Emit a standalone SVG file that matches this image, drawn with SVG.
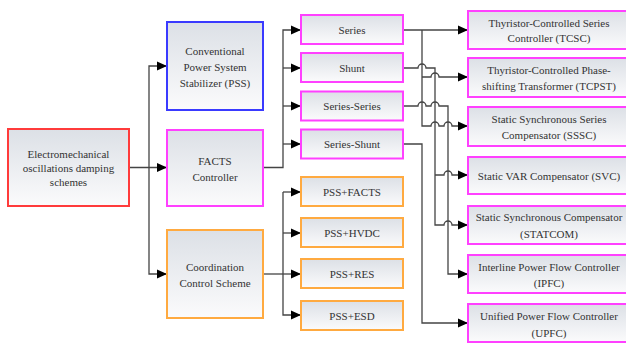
<svg xmlns="http://www.w3.org/2000/svg" width="626" height="343" viewBox="0 0 626 343">
<style>
.box{fill:url(#g);stroke-width:2}
.red{stroke:#ff3b3b}
.blue{stroke:#3a3aff}
.mag{stroke:#ff40ff}
.org{stroke:#ffaa40}
text{font-size:11px;fill:#333;text-anchor:middle;dominant-baseline:central}
.c path{fill:none;stroke:#444;stroke-width:1.3}
.c path.a{marker-end:url(#ar)}
</style>
<defs>
<linearGradient id="g" x1="0" y1="0" x2="0" y2="1">
<stop offset="0" stop-color="#dce0e6"/>
<stop offset="1" stop-color="#fbfbfc"/>
</linearGradient>
<marker id="ar" markerUnits="userSpaceOnUse" markerWidth="10" markerHeight="10" refX="10" refY="5" orient="auto">
<path d="M0,0.5 L10,5 L0,9.5 z" fill="#000"/>
</marker>
</defs>
<rect width="626" height="343" fill="#fff"/>
<g class="c" id="connectors">
<path d="M129,167.5 H167" class="a"/>
<path d="M149,167.5 V66 H167" class="a"/>
<path d="M149,167.5 V274 H167" class="a"/>
<path d="M263,167.5 H283 V30 H301" class="a"/>
<path d="M283,68 H301" class="a"/>
<path d="M283,106 H301" class="a"/>
<path d="M283,144 H301" class="a"/>
<path d="M263,274 H283" />
<path d="M283,192 V315 H301" class="a"/>
<path d="M283,192 H301" class="a"/>
<path d="M283,233 H301" class="a"/>
<path d="M283,274 H301" class="a"/>
<path d="M403,30 H468" class="a"/>
<path d="M422,30 V126 H431 a4,4 0 0 1 8,0 H444 a4,4 0 0 1 8,0 H468" class="a"/>
<path d="M422,77 H431 a4,4 0 0 1 8,0 H468" class="a"/>
<path d="M403,68 H418 a4,4 0 0 1 8,0 H435 V225 H444 a4,4 0 0 1 8,0 H468" class="a"/>
<path d="M435,175 H444 a4,4 0 0 1 8,0 H468" class="a"/>
<path d="M403,106 H418 a4,4 0 0 1 8,0 H431 a4,4 0 0 1 8,0 H448 V274 H468" class="a"/>
<path d="M403,144 H422 V323 H468" class="a"/>
</g>
<g font-family="Liberation Serif, DejaVu Serif, serif">
<g id="root"><rect class="box red" x="8" y="129" width="121" height="77"/>
<text x="68.5" y="154">Electromechanical</text><text x="68.5" y="168">oscillations damping</text><text x="68.5" y="182">schemes</text></g>
<g id="pss"><rect class="box blue" x="167" y="22" width="96" height="88"/>
<text x="215" y="51">Conventional</text><text x="215" y="67">Power System</text><text x="215" y="83">Stabilizer (PSS)</text></g>
<g id="facts"><rect class="box mag" x="167" y="130" width="96" height="76"/>
<text x="215" y="160.5">FACTS</text><text x="215" y="176.5">Controller</text></g>
<g id="coord"><rect class="box org" x="167" y="230" width="96" height="88"/>
<text x="215" y="267">Coordination</text><text x="215" y="283">Control Scheme</text></g>
<g id="series"><rect class="box mag" x="301" y="15" width="102" height="29"/><text x="352" y="29.5">Series</text></g>
<g id="shunt"><rect class="box mag" x="301" y="53" width="102" height="29"/><text x="352" y="67.5">Shunt</text></g>
<g id="series-series"><rect class="box mag" x="301" y="91.5" width="102" height="29"/><text x="352" y="106">Series-Series</text></g>
<g id="series-shunt"><rect class="box mag" x="301" y="129.5" width="102" height="29"/><text x="352" y="144">Series-Shunt</text></g>
<g id="pss-facts"><rect class="box org" x="301" y="177" width="102" height="29"/><text x="352" y="191.5">PSS+FACTS</text></g>
<g id="pss-hvdc"><rect class="box org" x="301" y="218" width="102" height="29"/><text x="352" y="232.5">PSS+HVDC</text></g>
<g id="pss-res"><rect class="box org" x="301" y="259" width="102" height="29"/><text x="352" y="273.5">PSS+RES</text></g>
<g id="pss-esd"><rect class="box org" x="301" y="301" width="102" height="29"/><text x="352" y="315.5">PSS+ESD</text></g>
<g id="tcsc"><rect class="box mag" x="468" y="11" width="162" height="38"/>
<text x="549" y="22.5">Thyristor-Controlled Series</text><text x="549" y="38">Controller (TCSC)</text></g>
<g id="tcpst"><rect class="box mag" x="468" y="58" width="162" height="39"/>
<text x="549" y="70">Thyristor-Controlled Phase-</text><text x="549" y="86">shifting Transformer (TCPST)</text></g>
<g id="sssc"><rect class="box mag" x="468" y="107" width="162" height="39"/>
<text x="549" y="119">Static Synchronous Series</text><text x="549" y="135">Compensator (SSSC)</text></g>
<g id="svc"><rect class="box mag" x="468" y="157" width="162" height="37"/>
<text x="549" y="175.5">Static VAR Compensator (SVC)</text></g>
<g id="statcom"><rect class="box mag" x="468" y="206" width="162" height="38"/>
<text x="549" y="217">Static Synchronous Compensator</text><text x="549" y="234">(STATCOM)</text></g>
<g id="ipfc"><rect class="box mag" x="468" y="255" width="162" height="38"/>
<text x="549" y="266.5">Interline Power Flow Controller</text><text x="549" y="283">(IPFC)</text></g>
<g id="upfc"><rect class="box mag" x="468" y="304" width="162" height="38"/>
<text x="549" y="315.5">Unified Power Flow Controller</text><text x="549" y="332.5">(UPFC)</text></g>
</g>
</svg>
